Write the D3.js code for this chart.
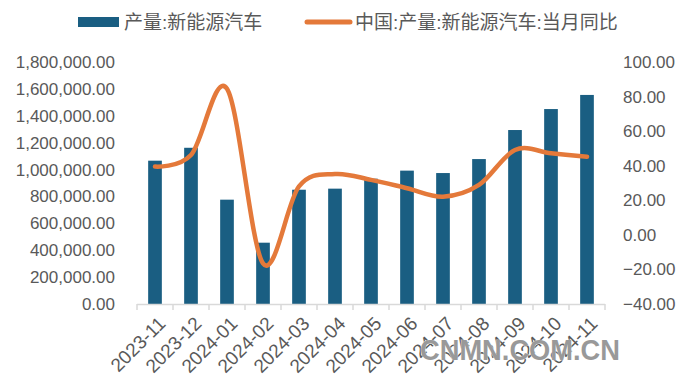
<!DOCTYPE html>
<html>
<head>
<meta charset="utf-8">
<script src="https://cdn.jsdelivr.net/npm/d3@7"></script>
<style>
  body { margin: 0; background: #fff; }
  svg { display: block; }
</style>
</head>
<body>
<svg width="694" height="388"></svg>
<script>
const months = ["2023-11", "2023-12", "2024-01", "2024-02", "2024-03", "2024-04", "2024-05",
    "2024-06", "2024-07", "2024-08", "2024-09", "2024-10", "2024-11"];
const output = [1066000, 1162000, 776000, 456000, 850000, 858000, 932000,
    992000, 974000, 1078000, 1294000, 1450000, 1555000];
const yoy = [39.5, 46.2, 84.5, -16.5, 28.0, 35.2, 31.8, 27.0, 22.1, 28.9, 49.1, 47.2, 45.2];
const leftTicks = [0, 200000, 400000, 600000, 800000, 1000000, 1200000, 1400000, 1600000, 1800000];
const rightTicks = [-40, -20, 0, 20, 40, 60, 80, 100];
const barName = "产量:新能源汽车";
const lineName = "中国:产量:新能源汽车:当月同比";

const svg = d3.select("svg");
const font = "'Liberation Sans', Arial, sans-serif";
const cjk = "'Liberation Sans', 'Noto Sans CJK SC', sans-serif";
const textColor = "#595959";
const barColor = "#1a5e82";
const lineColor = "#e4793a";

const plotLeft = 137, plotRight = 605, plotTop = 62, plotBottom = 304;

const x = d3.scaleBand()
    .domain(months)
    .range([plotLeft, plotRight])
    .paddingInner(0.62)
    .paddingOuter(0.31);

const yL = d3.scaleLinear().domain([0, 1800000]).range([plotBottom, plotTop]);
const yR = d3.scaleLinear().domain([-40, 100]).range([plotBottom, plotTop]);

// bars
svg.append("g").selectAll("rect")
    .data(months)
    .enter().append("rect")
    .attr("x", d => x(d))
    .attr("width", x.bandwidth())
    .attr("y", (d, i) => yL(output[i]))
    .attr("height", (d, i) => plotBottom - yL(output[i]))
    .attr("fill", barColor);

// x axis
const step = (plotRight - plotLeft) / months.length;
const gx = svg.append("g");
gx.append("line")
    .attr("x1", plotLeft).attr("x2", plotRight)
    .attr("y1", plotBottom + 0.5).attr("y2", plotBottom + 0.5)
    .attr("stroke", "#d9d9d9").attr("stroke-width", 1.5);
d3.range(months.length + 1).forEach(i => {
    gx.append("line")
        .attr("x1", plotLeft + i * step).attr("x2", plotLeft + i * step)
        .attr("y1", plotBottom).attr("y2", plotBottom + 6)
        .attr("stroke", "#d9d9d9").attr("stroke-width", 1.5);
});
gx.selectAll("text.xl")
    .data(months)
    .enter().append("text")
    .attr("class", "xl")
    .attr("transform", d => "translate(" + (x(d) + x.bandwidth() / 2 + 7) + "," + (plotBottom + 16) + ") rotate(-45)")
    .attr("text-anchor", "end")
    .attr("dy", "0.35em")
    .style("font-family", font)
    .style("font-size", "19px")
    .style("fill", textColor)
    .text(d => d);

// left axis labels
svg.append("g").selectAll("text")
    .data(leftTicks)
    .enter().append("text")
    .attr("x", 115)
    .attr("y", d => yL(d))
    .attr("dy", "0.35em")
    .attr("text-anchor", "end")
    .style("font-family", font)
    .style("font-size", "17px")
    .style("fill", textColor)
    .text(d => d3.format(",.2f")(d));

// right axis labels
svg.append("g").selectAll("text")
    .data(rightTicks)
    .enter().append("text")
    .attr("x", 623)
    .attr("y", d => yR(d))
    .attr("dy", "0.35em")
    .attr("text-anchor", "start")
    .style("font-family", font)
    .style("font-size", "17px")
    .style("fill", textColor)
    .text(d => d3.format(".2f")(d).replace("-", "- "));

// line
const line = d3.line()
    .x((d, i) => x(months[i]) + x.bandwidth() / 2)
    .y(d => yR(d))
    .curve(d3.curveCardinal.tension(0));

svg.append("path")
    .datum(yoy)
    .attr("d", line)
    .attr("fill", "none")
    .attr("stroke", lineColor)
    .attr("stroke-width", 4.5)
    .attr("stroke-linecap", "round");

// legend
const lg = svg.append("g");
lg.append("rect")
    .attr("x", 78).attr("y", 17).attr("width", 41).attr("height", 10)
    .attr("fill", barColor);
lg.append("text")
    .attr("x", 124).attr("y", 22).attr("dy", "0.35em")
    .style("font-family", cjk).style("font-size", "19px").style("fill", textColor)
    .text(barName);
lg.append("line")
    .attr("x1", 307).attr("x2", 350).attr("y1", 22).attr("y2", 22)
    .attr("stroke", lineColor).attr("stroke-width", 5).attr("stroke-linecap", "round");
lg.append("text")
    .attr("x", 355).attr("y", 22).attr("dy", "0.35em")
    .style("font-family", cjk).style("font-size", "19px").style("fill", textColor)
    .text(lineName);

// watermark
svg.append("text")
    .attr("x", 520).attr("y", 360)
    .attr("text-anchor", "middle")
    .attr("textLength", 200)
    .attr("lengthAdjust", "spacingAndGlyphs")
    .style("font-family", font)
    .style("font-size", "29px")
    .style("font-weight", "bold")
    .style("fill", "#999999")
    .style("stroke", "#ffffff")
    .style("stroke-width", 0.6)
    .style("paint-order", "stroke")
    .text("CNMN.COM.CN");
</script>
</body>
</html>
